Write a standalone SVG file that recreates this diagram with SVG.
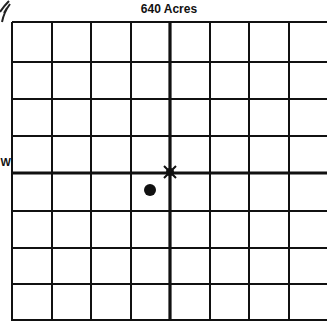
<svg xmlns="http://www.w3.org/2000/svg" width="327" height="322" viewBox="0 0 327 322">
<style>
.g{stroke:#111;stroke-width:2;fill:none}
.t{stroke:#111;stroke-width:3.2;fill:none}
.lbl{font-family:"Liberation Sans",Arial,sans-serif;fill:#111}
</style>
<rect width="327" height="322" fill="#fff"/>
<g id="north">
<path d="M0 12 Q4 6 9 1 M2 22 Q4 12 10 4 M4 13 L7 8" stroke="#222" stroke-width="2" fill="none"/>
</g>
<g id="title"><text class="lbl" x="169" y="13" font-size="12" font-weight="bold" text-anchor="middle">640 Acres</text></g>
<g id="w"><text class="lbl" x="0.5" y="166" font-size="11" font-weight="bold">W</text></g>
<g id="grid">
<path class="g" d="M12 22V321M52 22V321M91 22V321M131 22V321M210 22V321M249 22V321M289 22V321"/>
<path class="g" d="M12 22H327M12 62H327M12 99H327M12 136H327M12 211H327M12 248H327M12 284H327M12 320H327"/>
<path class="t" d="M170 22V321M12 173H327"/>
<path class="g" d="M12 22V321" stroke-width="2.5"/>
</g>
<g id="marker">
<circle cx="170" cy="172" r="4" fill="#111"/>
<path d="M164 166L176 178M176 166L164 178" stroke="#111" stroke-width="2"/>
</g>
<g id="dot"><circle cx="150" cy="190" r="6" fill="#111"/></g>
</svg>
